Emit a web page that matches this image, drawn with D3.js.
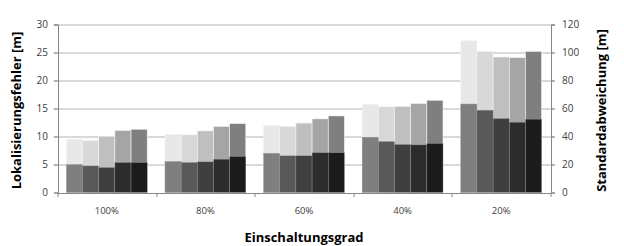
<!DOCTYPE html>
<html>
<head>
<meta charset="utf-8">
<script src="https://cdn.jsdelivr.net/npm/d3@7"></script>
<style>
  body { margin: 0; background: #fff; }
  text { font-family: "Open Sans", sans-serif; }
</style>
</head>
<body>
<svg id="chart" width="624" height="246"></svg>
<script>
// categories on the x axis
const categories = ['100%', '80%', '60%', '40%', '20%'];
const seriesIdx = [0, 1, 2, 3, 4];

// Lokalisierungsfehler [m] (left axis), one row per category, one value per bar
const fehler = [
    [5.0, 4.75, 4.46, 5.36, 5.36],
    [5.54, 5.36, 5.47, 5.95, 6.43],
    [7.0, 6.55, 6.55, 7.1, 7.1],
    [9.88, 9.1, 8.57, 8.5, 8.75],
    [15.8, 14.7, 13.2, 12.55, 13.1],
];

// Standardabweichung [m] (right axis)
const abweichung = [
    [38.1, 37.1, 40.2, 44.3, 45.2],
    [41.6, 41.2, 44.0, 47.2, 49.2],
    [48.0, 47.2, 49.6, 52.6, 54.7],
    [63.1, 61.2, 61.6, 63.6, 65.9],
    [108.4, 100.8, 96.8, 96.4, 100.8],
];

const leftTicks = [0, 5, 10, 15, 20, 25, 30];
const rightTicks = [0, 20, 40, 60, 80, 100, 120];

const darkColors = ['#7f7f7f', '#595959', '#3f3f3f', '#2c2c2c', '#1b1b1b'];
const lightColors = ['#e8e8e8', '#d8d8d8', '#bfbfbf', '#a5a5a5', '#7f7f7f'];

const svg = d3.select('#chart');
const margin = { top: 24.5, right: 73.5, bottom: 53.5, left: 57.5 };
const width = 624 - margin.left - margin.right;
const height = 246 - margin.top - margin.bottom;

const x = d3.scaleBand().domain(categories).range([0, width]);
const xInner = d3.scaleBand().domain(seriesIdx)
    .range([0, x.bandwidth()])
    .paddingOuter(0.55)
    .paddingInner(0);
const yLeft = d3.scaleLinear().domain([0, 30]).range([height, 0]);
const yRight = d3.scaleLinear().domain([0, 120]).range([height, 0]);

const g = svg.append('g')
    .attr('transform', `translate(${margin.left},${margin.top})`);

// gridlines
g.append('g')
    .selectAll('line')
    .data(leftTicks.slice(1))
    .join('line')
    .attr('x1', -4)
    .attr('x2', width + 4)
    .attr('y1', (d) => Math.round(yLeft(d)) + 0.5)
    .attr('y2', (d) => Math.round(yLeft(d)) + 0.5)
    .attr('stroke', '#b3b3b3')
    .attr('stroke-width', 1);

const groups = g.selectAll('.cat')
    .data(categories)
    .join('g')
    .attr('class', 'cat')
    .attr('transform', (d) => `translate(${x(d)},0)`);

// light bars (right axis) behind
groups.selectAll('.light')
    .data((d, i) => abweichung[i].map((v, j) => ({ v, j })))
    .join('rect')
    .attr('class', 'light')
    .attr('x', (d) => xInner(d.j))
    .attr('width', xInner.bandwidth())
    .attr('y', (d) => yRight(d.v))
    .attr('height', (d) => height - yRight(d.v))
    .attr('fill', (d) => lightColors[d.j])
    .attr('stroke', '#f4f4f4')
    .attr('stroke-width', 0.6);

// dark bars (left axis) in front
groups.selectAll('.dark')
    .data((d, i) => fehler[i].map((v, j) => ({ v, j })))
    .join('rect')
    .attr('class', 'dark')
    .attr('x', (d) => xInner(d.j))
    .attr('width', xInner.bandwidth())
    .attr('y', (d) => yLeft(d.v))
    .attr('height', (d) => height - yLeft(d.v))
    .attr('fill', (d) => darkColors[d.j])
    .attr('stroke', '#9a9a9a')
    .attr('stroke-width', 0.4);

// left axis
const leftAxis = g.append('g')
    .attr('transform', 'translate(0.5,0)')
    .call(d3.axisLeft(yLeft).tickValues(leftTicks).tickSize(4).tickPadding(6));
// right axis
const rightAxis = g.append('g')
    .attr('transform', `translate(${width + 0.5},0)`)
    .call(d3.axisRight(yRight).tickValues(rightTicks).tickSize(4).tickPadding(7));
// x axis
const xAxis = g.append('g')
    .attr('transform', `translate(0,${height + 0.5})`)
    .call(d3.axisBottom(x).tickSize(0).tickPadding(14));

xAxis.append('g')
    .selectAll('line')
    .data(categories.map((c) => x(c)).concat([width]))
    .join('line')
    .attr('x1', (d) => Math.round(d) + 0.5)
    .attr('x2', (d) => Math.round(d) + 0.5)
    .attr('y1', 0)
    .attr('y2', 4)
    .attr('stroke', '#868686');

[leftAxis, rightAxis, xAxis].forEach((ax) => {
    ax.select('.domain').attr('stroke', '#868686');
    ax.selectAll('.tick line').attr('stroke', '#868686');
    ax.selectAll('text')
        .attr('fill', '#404040')
        .style('font-size', '10px')
        .style('font-family', '"Open Sans", sans-serif');
});
xAxis.selectAll('.tick text').style('font-size', '9.5px');

// axis titles
svg.append('text')
    .attr('transform', `translate(21,${margin.top + height / 2 + 2}) rotate(-90)`)
    .attr('text-anchor', 'middle')
    .style('font-size', '13px')
    .style('font-weight', 'bold')
    .attr('fill', '#000')
    .text('Lokalisierungsfehler  [m]');

svg.append('text')
    .attr('transform', `translate(606,${margin.top + height / 2 + 2}) rotate(-90)`)
    .attr('text-anchor', 'middle')
    .style('font-size', '13px')
    .style('font-weight', 'bold')
    .attr('fill', '#000')
    .text('Standardabweichung [m]');

svg.append('text')
    .attr('x', margin.left + width / 2)
    .attr('y', 242)
    .attr('text-anchor', 'middle')
    .style('font-size', '13px')
    .style('font-weight', 'bold')
    .attr('fill', '#000')
    .text('Einschaltungsgrad');
</script>
</body>
</html>
